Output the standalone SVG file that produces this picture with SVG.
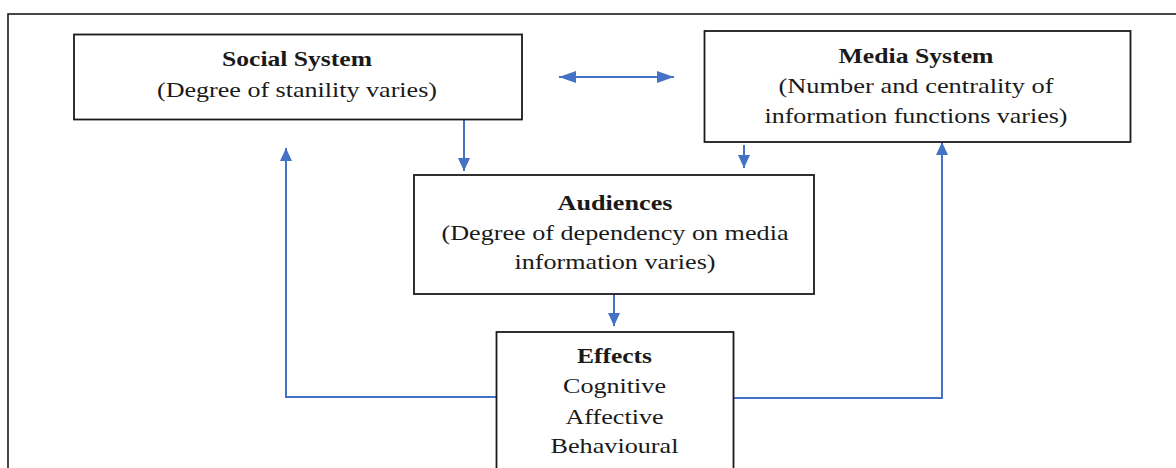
<svg xmlns="http://www.w3.org/2000/svg" width="1176" height="468" viewBox="0 0 1176 468">
<style>
.box{fill:#fff;stroke:#1a1a1a;stroke-width:1.8}
.frame{fill:none;stroke:#1a1a1a;stroke-width:1.6}
.t{font-family:'Liberation Serif',serif;font-size:21px;fill:#1a1a1a;text-anchor:middle}
.b{font-weight:bold}
.c{fill:none;stroke:#4472C4;stroke-width:2}
</style>
<defs>
<marker id="ah" markerUnits="userSpaceOnUse" markerWidth="14" markerHeight="14" refX="13" refY="6" orient="auto-start-reverse"><path d="M0,0 L13,6 L0,12 z" fill="#4472C4"/></marker>
<marker id="ahh" markerUnits="userSpaceOnUse" markerWidth="18" markerHeight="14" refX="17" refY="6" orient="auto-start-reverse"><path d="M0,0 L17,6 L0,12 z" fill="#4472C4"/></marker>
</defs>
<rect class="frame" x="8" y="14" width="1190" height="480"/>
<g id="connectors">
<path class="c" d="M559,77 H674" marker-start="url(#ahh)" marker-end="url(#ahh)"/>
<path class="c" d="M464,120 V171" marker-end="url(#ah)"/>
<path class="c" d="M744,145 V168" marker-end="url(#ah)"/>
<path class="c" d="M614,279 V326" marker-end="url(#ah)"/>
<path class="c" d="M496,397 H286 V148" marker-end="url(#ah)"/>
<path class="c" d="M733,398 H942 V142" marker-end="url(#ah)"/>
</g>
<g id="social">
<rect class="box" x="74" y="34.5" width="448" height="85"/>
<text class="t b" x="297" y="66" textLength="150" lengthAdjust="spacingAndGlyphs">Social System</text>
<text class="t" x="297" y="97" textLength="280" lengthAdjust="spacingAndGlyphs">(Degree of stanility varies)</text>
</g>
<g id="media">
<rect class="box" x="704.5" y="31" width="426" height="111"/>
<text class="t b" x="916" y="63" textLength="155" lengthAdjust="spacingAndGlyphs">Media System</text>
<text class="t" x="916" y="93" textLength="275" lengthAdjust="spacingAndGlyphs">(Number and centrality of</text>
<text class="t" x="916" y="123" textLength="303" lengthAdjust="spacingAndGlyphs">information functions varies)</text>
</g>
<g id="audiences">
<rect class="box" x="414" y="175" width="400" height="119"/>
<text class="t b" x="615" y="210" textLength="115" lengthAdjust="spacingAndGlyphs">Audiences</text>
<text class="t" x="615" y="240" textLength="347" lengthAdjust="spacingAndGlyphs">(Degree of dependency on media</text>
<text class="t" x="615" y="269" textLength="201" lengthAdjust="spacingAndGlyphs">information varies)</text>
</g>
<g id="effects">
<rect class="box" x="496.5" y="332" width="237" height="150"/>
<text class="t b" x="614.5" y="363" textLength="75" lengthAdjust="spacingAndGlyphs">Effects</text>
<text class="t" x="614.5" y="393" textLength="103" lengthAdjust="spacingAndGlyphs">Cognitive</text>
<text class="t" x="614.5" y="424" textLength="98" lengthAdjust="spacingAndGlyphs">Affective</text>
<text class="t" x="614.5" y="453" textLength="128" lengthAdjust="spacingAndGlyphs">Behavioural</text>
</g>
</svg>
